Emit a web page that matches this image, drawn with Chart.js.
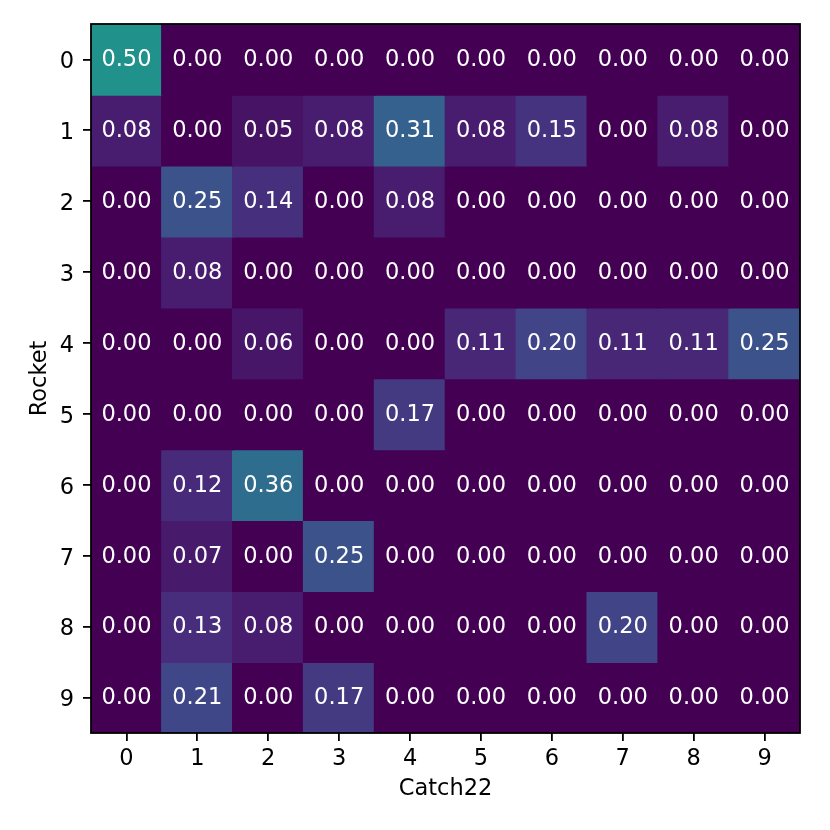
<!DOCTYPE html>
<html>
<head>
<meta charset="utf-8">
<script src="https://cdn.jsdelivr.net/npm/chart.js@4.4.0/dist/chart.umd.min.js"></script>
<style>
  html, body { margin: 0; padding: 0; background: #fff; }
  #wrap { width: 830px; height: 830px; }
</style>
</head>
<body>
<div id="wrap"><canvas id="c" width="830" height="830"></canvas></div>
<script>
// ---- data ----
const colLabels = ['0','1','2','3','4','5','6','7','8','9'];   // Catch22
const rowLabels = ['0','1','2','3','4','5','6','7','8','9'];   // Rocket
const row0 = [0.50, 0.00, 0.00, 0.00, 0.00, 0.00, 0.00, 0.00, 0.00, 0.00];
const row1 = [0.08, 0.00, 0.05, 0.08, 0.31, 0.08, 0.15, 0.00, 0.08, 0.00];
const row2 = [0.00, 0.25, 0.14, 0.00, 0.08, 0.00, 0.00, 0.00, 0.00, 0.00];
const row3 = [0.00, 0.08, 0.00, 0.00, 0.00, 0.00, 0.00, 0.00, 0.00, 0.00];
const row4 = [0.00, 0.00, 0.06, 0.00, 0.00, 0.11, 0.20, 0.11, 0.11, 0.25];
const row5 = [0.00, 0.00, 0.00, 0.00, 0.17, 0.00, 0.00, 0.00, 0.00, 0.00];
const row6 = [0.00, 0.12, 0.36, 0.00, 0.00, 0.00, 0.00, 0.00, 0.00, 0.00];
const row7 = [0.00, 0.07, 0.00, 0.25, 0.00, 0.00, 0.00, 0.00, 0.00, 0.00];
const row8 = [0.00, 0.13, 0.08, 0.00, 0.00, 0.00, 0.00, 0.20, 0.00, 0.00];
const row9 = [0.00, 0.21, 0.00, 0.17, 0.00, 0.00, 0.00, 0.00, 0.00, 0.00];
const rows = [row0, row1, row2, row3, row4, row5, row6, row7, row8, row9];
const xTitle = 'Catch22';
const yTitle = 'Rocket';

// ---- viridis colormap (vmin 0, vmax 1) ----
const viridisStops = [
  '#440154','#471365','#482475','#46337f','#414487','#3b528b','#355f8d','#306a8e',
  '#2a788e','#25838e','#21918c','#1f9e89','#22a884','#2fb47c','#44bf70','#5ec962',
  '#7ad151','#9bd93c','#bddf26','#dfe318','#fde725'
];
function hex2rgb(h){ return [parseInt(h.slice(1,3),16),parseInt(h.slice(3,5),16),parseInt(h.slice(5,7),16)]; }
function viridis(v){
  v = Math.max(0, Math.min(1, v));
  const n = viridisStops.length - 1;
  const p = v * n, i = Math.min(Math.floor(p), n - 1), t = p - i;
  const a = hex2rgb(viridisStops[i]), b = hex2rgb(viridisStops[i+1]);
  const c = a.map((x,k)=>Math.round(x + (b[k]-x)*t));
  return 'rgb(' + c.join(',') + ')';
}

const FONT = 'DejaVu Sans';
const FS = 22.5;

const datasets = rows.map((vals, r) => ({
  label: rowLabels[r],
  data: vals.map(() => [r - 0.5, r + 0.5]),
  backgroundColor: vals.map(viridis),
  borderWidth: 0,
  inflateAmount: 0.8,
  borderSkipped: false,
  grouped: false,
  barPercentage: 1.0,
  categoryPercentage: 1.0
}));

const cellText = {
  id: 'cellText',
  afterDatasetsDraw(chart) {
    const ctx = chart.ctx, xs = chart.scales.x, ys = chart.scales.y;
    ctx.save();
    ctx.fillStyle = '#ffffff';
    ctx.font = FS + 'px "' + FONT + '"';
    ctx.textAlign = 'center';
    ctx.textBaseline = 'middle';
    rows.forEach((vals, r) => {
      vals.forEach((v, c) => {
        ctx.fillText(v.toFixed(2), xs.getPixelForValue(c), ys.getPixelForValue(r) + 1);
      });
    });
    ctx.restore();
  },
  afterDraw(chart) {
    const ctx = chart.ctx, a = chart.chartArea;
    ctx.save();
    ctx.strokeStyle = '#000';
    ctx.lineWidth = 1.8;
    ctx.strokeRect(a.left, a.top, a.right - a.left, a.bottom - a.top);
    ctx.restore();
  }
};

new Chart(document.getElementById('c'), {
  type: 'bar',
  data: { labels: colLabels, datasets },
  options: {
    responsive: false,
    animation: false,
    devicePixelRatio: 1,
    layout: { padding: { left: 0, top: 24, right: 30, bottom: 0 } },
    plugins: { legend: { display: false }, tooltip: { enabled: false } },
    scales: {
      x: {
        type: 'category',
        offset: true,
        grid: { display: true, offset: false, drawOnChartArea: false, drawTicks: true, tickLength: 8, color: '#000', lineWidth: 1.8 },
        border: { display: false },
        ticks: { color: '#000', font: { family: FONT, size: FS }, padding: 5, maxRotation: 0, autoSkip: false },
        title: { display: true, text: xTitle, color: '#000', font: { family: FONT, size: FS }, padding: { top: 0, bottom: 27 } },
        afterFit(s) { s.height = 97; }
      },
      y: {
        type: 'linear',
        reverse: true,
        min: -0.5,
        max: 9.5,
        afterBuildTicks(s) { s.ticks = rowLabels.map((l, i) => ({ value: i })); },
        grid: { display: true, drawOnChartArea: false, drawTicks: true, tickLength: 8, color: '#000', lineWidth: 1.8 },
        border: { display: false },
        ticks: { color: '#000', font: { family: FONT, size: FS }, padding: 9, labelOffset: 3, callback: (v) => rowLabels[v] },
        title: { display: true, text: yTitle, color: '#000', font: { family: FONT, size: FS }, padding: { top: 27, bottom: 0 } },
        afterFit(s) { s.width = 91; }
      }
    }
  },
  plugins: [cellText]
});
</script>
</body>
</html>
